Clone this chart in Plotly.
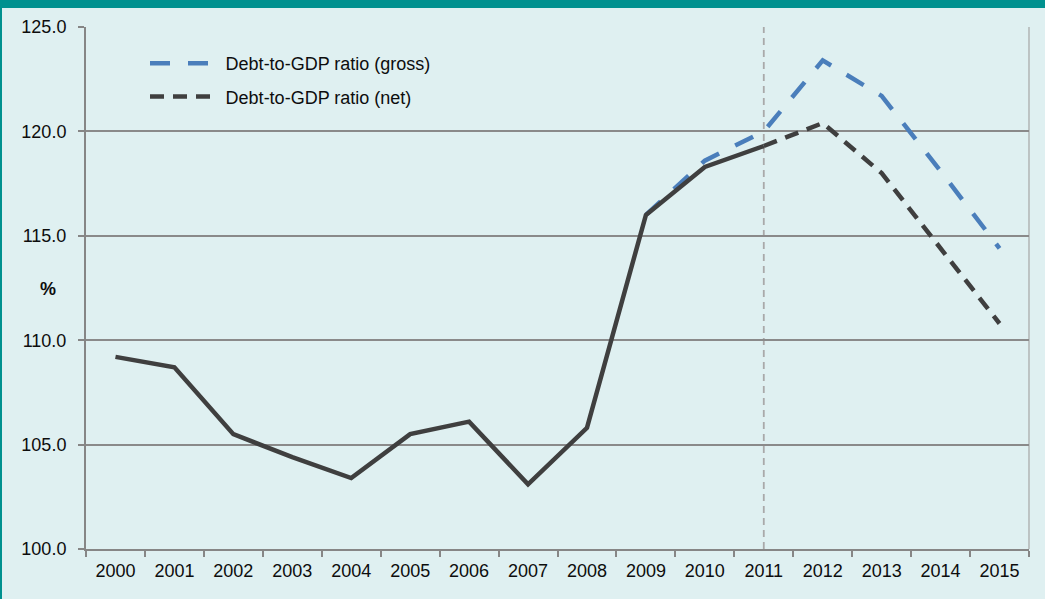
import plotly.graph_objects as go

years = [str(y) for y in range(2000, 2016)]

# Net debt ratio, actual (2000-2011)
net_actual_years = years[:12]
net_actual = [109.2, 108.7, 105.5, 104.4, 103.4, 105.5, 106.1, 103.1, 105.8, 116.0, 118.3, 119.3]

# Net debt ratio, projection (2011-2015)
net_proj_years = years[11:]
net_proj = [119.3, 120.4, 118.0, 114.4, 110.8]

# Gross debt ratio (2009-2015)
gross_years = years[9:]
gross = [116.0, 118.6, 120.0, 123.4, 121.7, 118.1, 114.4]

forecast_start = "2011"
y_ticks = [100, 105, 110, 115, 120, 125]
y_tick_text = ["100.0", "105.0", "110.0", "115.0", "120.0", "125.0"]

TEAL = "#00918F"
BG = "#DFF0F1"
DARK = "#3F3F3F"
BLUE = "#4A7EBB"
GRID = "#8A8A8A"
FONT = "Liberation Sans, Arial, sans-serif"
TXT = "#0D0D0D"

fig = go.Figure()
fig.add_trace(go.Scatter(
    x=gross_years, y=gross, mode="lines", name="\u2009Debt-to-GDP ratio (gross)",
    line=dict(color=BLUE, width=4.5, dash="20px,18px"), legendgroup="g1"))
fig.add_trace(go.Scatter(
    x=net_proj_years, y=net_proj, mode="lines", name="\u2009Debt-to-GDP ratio (net)",
    line=dict(color=DARK, width=4.5, dash="14px,9px"), legendgroup="g2"))
fig.add_trace(go.Scatter(
    x=net_actual_years, y=net_actual, mode="lines", showlegend=False,
    line=dict(color=DARK, width=4.5)))

# plot area in pixels: x 86..1029, y 27..549
W, H = 1045, 599
L, R, T, B = 86, 1029, 27, 549
pw, ph = R - L, B - T

def px_x(px):
    return (px - L) / pw

def px_y(py):
    return (B - py) / ph

fc_idx = years.index(forecast_start)

shapes = [
    # teal frame: top bar and left bar
    dict(type="rect", xref="paper", yref="paper", x0=px_x(0), x1=px_x(W), y0=px_y(-2), y1=px_y(8),
         fillcolor=TEAL, line=dict(width=0), layer="above"),
    dict(type="rect", xref="paper", yref="paper", x0=px_x(-2), x1=px_x(2), y0=px_y(H), y1=px_y(-2),
         fillcolor=TEAL, line=dict(width=0), layer="above"),
    # right border of plot area
    dict(type="line", xref="paper", yref="paper", x0=1, x1=1, y0=0, y1=1,
         line=dict(color="#A6A6A6", width=1.2), layer="between"),
    # vertical dashed line at forecast start
    dict(type="line", xref="x", yref="paper", x0=fc_idx, x1=fc_idx, y0=0, y1=1,
         line=dict(color="#A9A9A9", width=1.8, dash="7px,5px"), layer="between"),
]

fig.update_layout(
    width=W, height=H,
    margin=dict(l=L, r=W - R, t=T, b=H - B, pad=0),
    paper_bgcolor=BG, plot_bgcolor=BG,
    font=dict(family=FONT, size=18, color=TXT),
    shapes=shapes,
    legend=dict(x=px_x(145), y=px_y(45), xanchor="left", yanchor="top",
                bgcolor="rgba(0,0,0,0)", font=dict(size=18, color=TXT),
                itemwidth=67, tracegroupgap=7, traceorder="grouped"),
    annotations=[dict(text="<b>%</b>", xref="paper", yref="paper", x=px_x(48), y=px_y(289),
                      xanchor="center", yanchor="middle",
                      showarrow=False, font=dict(size=18, color=TXT))],
)
fig.update_xaxes(
    type="category", categoryorder="array", categoryarray=years,
    range=[-0.5, len(years) - 0.5],
    tickson="boundaries", ticks="outside", ticklen=6, tickwidth=1.5, tickcolor="#868686",
    showline=True, linecolor="#868686", linewidth=2, showgrid=False,
    ticklabelstandoff=4, tickfont=dict(size=18, color=TXT),
)
fig.update_yaxes(
    range=[100, 125], tickvals=y_ticks, ticktext=y_tick_text,
    ticks="outside", ticklen=6, tickwidth=1.5, tickcolor="#868686",
    showline=True, linecolor="#868686", linewidth=2,
    showgrid=True, gridcolor=GRID, gridwidth=1.8, zeroline=False,
    ticklabelstandoff=8, tickfont=dict(size=18, color=TXT),
)

fig.write_html("out.html", config={"displayModeBar": False},
               post_script="document.body.style.margin='0';document.body.style.overflow='hidden';")
